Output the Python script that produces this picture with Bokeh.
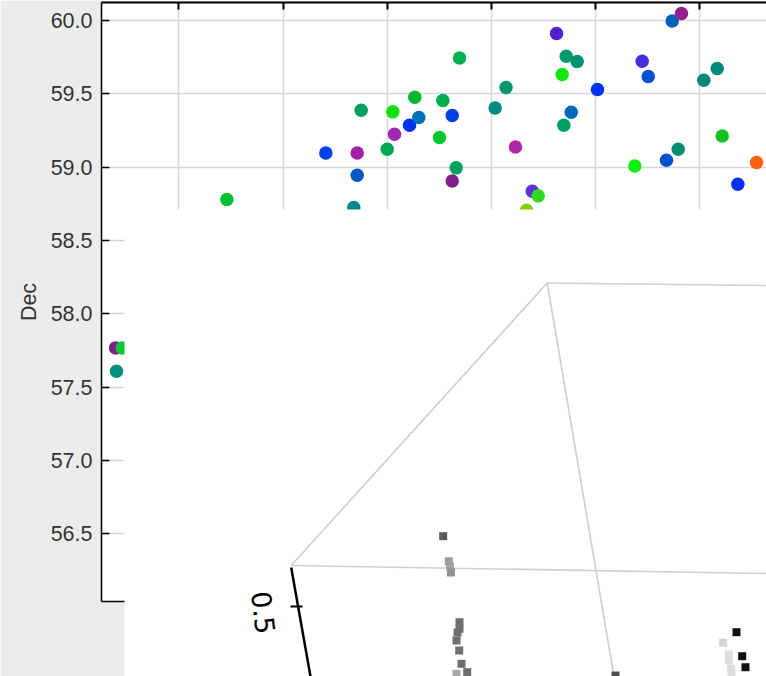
from bokeh.plotting import figure
from bokeh.models import LinearAxis, FixedTicker, PrintfTickFormatter, Range1d, Label, ColumnDataSource
from bokeh.layouts import column
from bokeh.embed import file_html
from bokeh.resources import INLINE

# ---------------- main scatter data (RA, Dec, colour) ----------------
ra = [160.461, 161.411, 161.712, 161.712, 161.679, 161.750, 162.000, 162.054, 162.070, 162.214,
      162.265, 162.303, 162.502, 162.534, 162.624, 162.624, 162.662, 162.694, 163.036, 163.140,
      163.231, 163.392, 163.449, 163.337, 163.625, 163.679, 163.718, 163.823, 163.695, 163.766,
      164.018, 164.447, 164.505, 164.735, 164.824, 165.038, 165.167, 164.376, 164.680, 164.793,
      165.215, 165.544, 165.365, 159.393, 159.457, 159.402]
dec = [58.779, 59.097, 59.097, 58.945, 58.724, 59.388, 59.122, 59.377, 59.224, 59.286,
       59.477, 59.338, 59.202, 59.454, 59.352, 58.906, 58.995, 59.745, 59.404, 59.543,
       59.138, 58.836, 58.804, 58.706, 59.911, 59.632, 59.756, 59.720, 59.286, 59.374,
       59.529, 59.722, 59.618, 59.997, 60.048, 59.593, 59.673, 59.008, 59.047, 59.122,
       59.213, 59.031, 58.883, 57.767, 57.767, 57.608]
colors = ["#00c030", "#0040e8", "#a020a8", "#0058c8", "#008890", "#00a060", "#00a850", "#10e010", "#a028b0", "#0030f0",
          "#00b830", "#0070b8", "#00c828", "#00b050", "#0040e0", "#802088", "#00a060", "#00b050", "#008c80", "#00986a",
          "#b028a8", "#6030d8", "#30d820", "#80d000", "#5020d0", "#10e810", "#00986a", "#009070", "#00a060", "#0068b8",
          "#0030f0", "#4030e0", "#0050d0", "#0060c0", "#902090", "#008878", "#008878", "#10f010", "#0050d0", "#009070",
          "#10c020", "#ff6010", "#0030f0", "#802088", "#10c830", "#009080"]

x_ticks = [160, 161, 162, 163, 164, 165]
y_ticks = [56.5, 57.0, 57.5, 58.0, 58.5, 59.0, 59.5, 60.0]

# ---------------- 3D inset data (projected coordinates) ----------------
edge_xs = [[422.7, 642.0], [422.7, 166.7], [422.7, 489.5], [166.7, 642.0]]
edge_ys = [[393.5, 391.0], [393.5, 111.0], [393.5, 0.0], [111.0, 103.0]]
zaxis_x = [166.7, 186.0]
zaxis_y = [109.0, 0.0]
ztick_x = [166.0, 178.0]
ztick_y = [70.0, 70.0]
ztick_label = "0.5"

pts_x = [318.7, 324.3, 325.5, 326.5, 335.0, 335.0, 333.0, 332.0, 334.7, 337.0, 342.7, 332.0,
         491.0, 612.0, 598.7, 604.3, 604.3, 606.7, 607.0, 617.7, 621.0]
pts_y = [140.3, 115.3, 110.0, 104.0, 54.3, 47.7, 44.0, 36.0, 26.0, 12.7, 4.3, 2.7,
         1.0, 44.3, 33.7, 22.0, 16.0, 7.7, 2.0, 20.3, 9.3]
pts_c = ["#5a5a5a", "#a0a0a0", "#a0a0a0", "#909090", "#6e6e6e", "#6e6e6e", "#6e6e6e", "#6e6e6e", "#6e6e6e", "#6e6e6e", "#6e6e6e", "#a8a8a8",
         "#505050", "#111111", "#d4d4d4", "#dcdcdc", "#dcdcdc", "#dcdcdc", "#dcdcdc", "#111111", "#111111"]

FONT = "Liberation Sans"

# ---------------- main figure ----------------
p1 = figure(width=766, height=676, x_range=Range1d(159.258, 165.640), y_range=Range1d(56.037, 60.123),
            output_backend="svg", toolbar_location=None,
            min_border_left=101, min_border_top=2, min_border_bottom=75, min_border_right=0)
p1.border_fill_color = "#ececec"
p1.background_fill_color = "white"
p1.outline_line_color = None

xax = p1.xaxis[0]
xax.ticker = FixedTicker(ticks=x_ticks)
xax.major_label_text_font_size = "1px"
xax.major_label_text_color = None
xax.major_tick_in = 7
xax.major_tick_out = 0
xax.minor_tick_line_color = None
xax.axis_line_color = "black"
xax.axis_line_width = 1.5

yax = p1.yaxis[0]
yax.ticker = FixedTicker(ticks=y_ticks)
yax.formatter = PrintfTickFormatter(format="%.1f")
yax.major_tick_in = 8
yax.major_tick_out = 0
yax.minor_tick_line_color = None
yax.axis_line_color = "black"
yax.axis_line_width = 1.5
yax.major_tick_line_width = 1.5
yax.major_label_standoff = 9
yax.major_label_text_font = FONT
yax.major_label_text_font_size = "21.5px"
yax.major_label_text_color = "#333333"
yax.axis_label = "Dec"
yax.axis_label_text_font = FONT
yax.axis_label_text_font_size = "21.5px"
yax.axis_label_text_font_style = "normal"
yax.axis_label_text_color = "#333333"
yax.axis_label_standoff = 7

top = LinearAxis(ticker=FixedTicker(ticks=x_ticks), major_label_text_font_size="1px",
                 major_label_text_color=None,
                 major_tick_in=7, major_tick_out=0, major_label_standoff=0,
                 axis_line_width=2, major_tick_line_width=2, minor_tick_line_color=None)
p1.add_layout(top, "above")

p1.grid.grid_line_color = "#d6d6d6"
p1.grid.grid_line_width = 1.5

src = ColumnDataSource(dict(x=ra, y=dec, c=colors))
p1.scatter("x", "y", source=src, size=13.5, fill_color="c", line_color=None)

# ---------------- inset 3D panel ----------------
# The column aligns the left borders of both plots (101 px), so the inset canvas
# starts 101 px left of its frame; that border is kept transparent.
p2 = figure(width=743, height=467, x_range=Range1d(0, 642), y_range=Range1d(0, 467),
            output_backend="svg", toolbar_location=None, min_border=0,
            x_axis_type=None, y_axis_type=None)
p2.outline_line_color = None
p2.background_fill_color = "white"
p2.border_fill_color = "white"
p2.border_fill_alpha = 0.0

p2.multi_line(edge_xs, edge_ys, line_color="#cfcfcf", line_width=1.6)
p2.line(zaxis_x, zaxis_y, line_color="black", line_width=2.5)
p2.line(ztick_x, ztick_y, line_color="black", line_width=2)
p2.add_layout(Label(x=139, y=64, text=ztick_label, angle=-1.45, text_align="center",
                    text_baseline="middle", text_font="DejaVu Sans", text_font_size="27px",
                    text_color="black"))
p2.scatter(pts_x, pts_y, marker="square", size=8, fill_color=pts_c, line_color=None)

p2.margin = (-467, 0, 0, 23)

layout = column(p1, p2, spacing=0)
open("out.html", "w").write(file_html(layout, INLINE))
